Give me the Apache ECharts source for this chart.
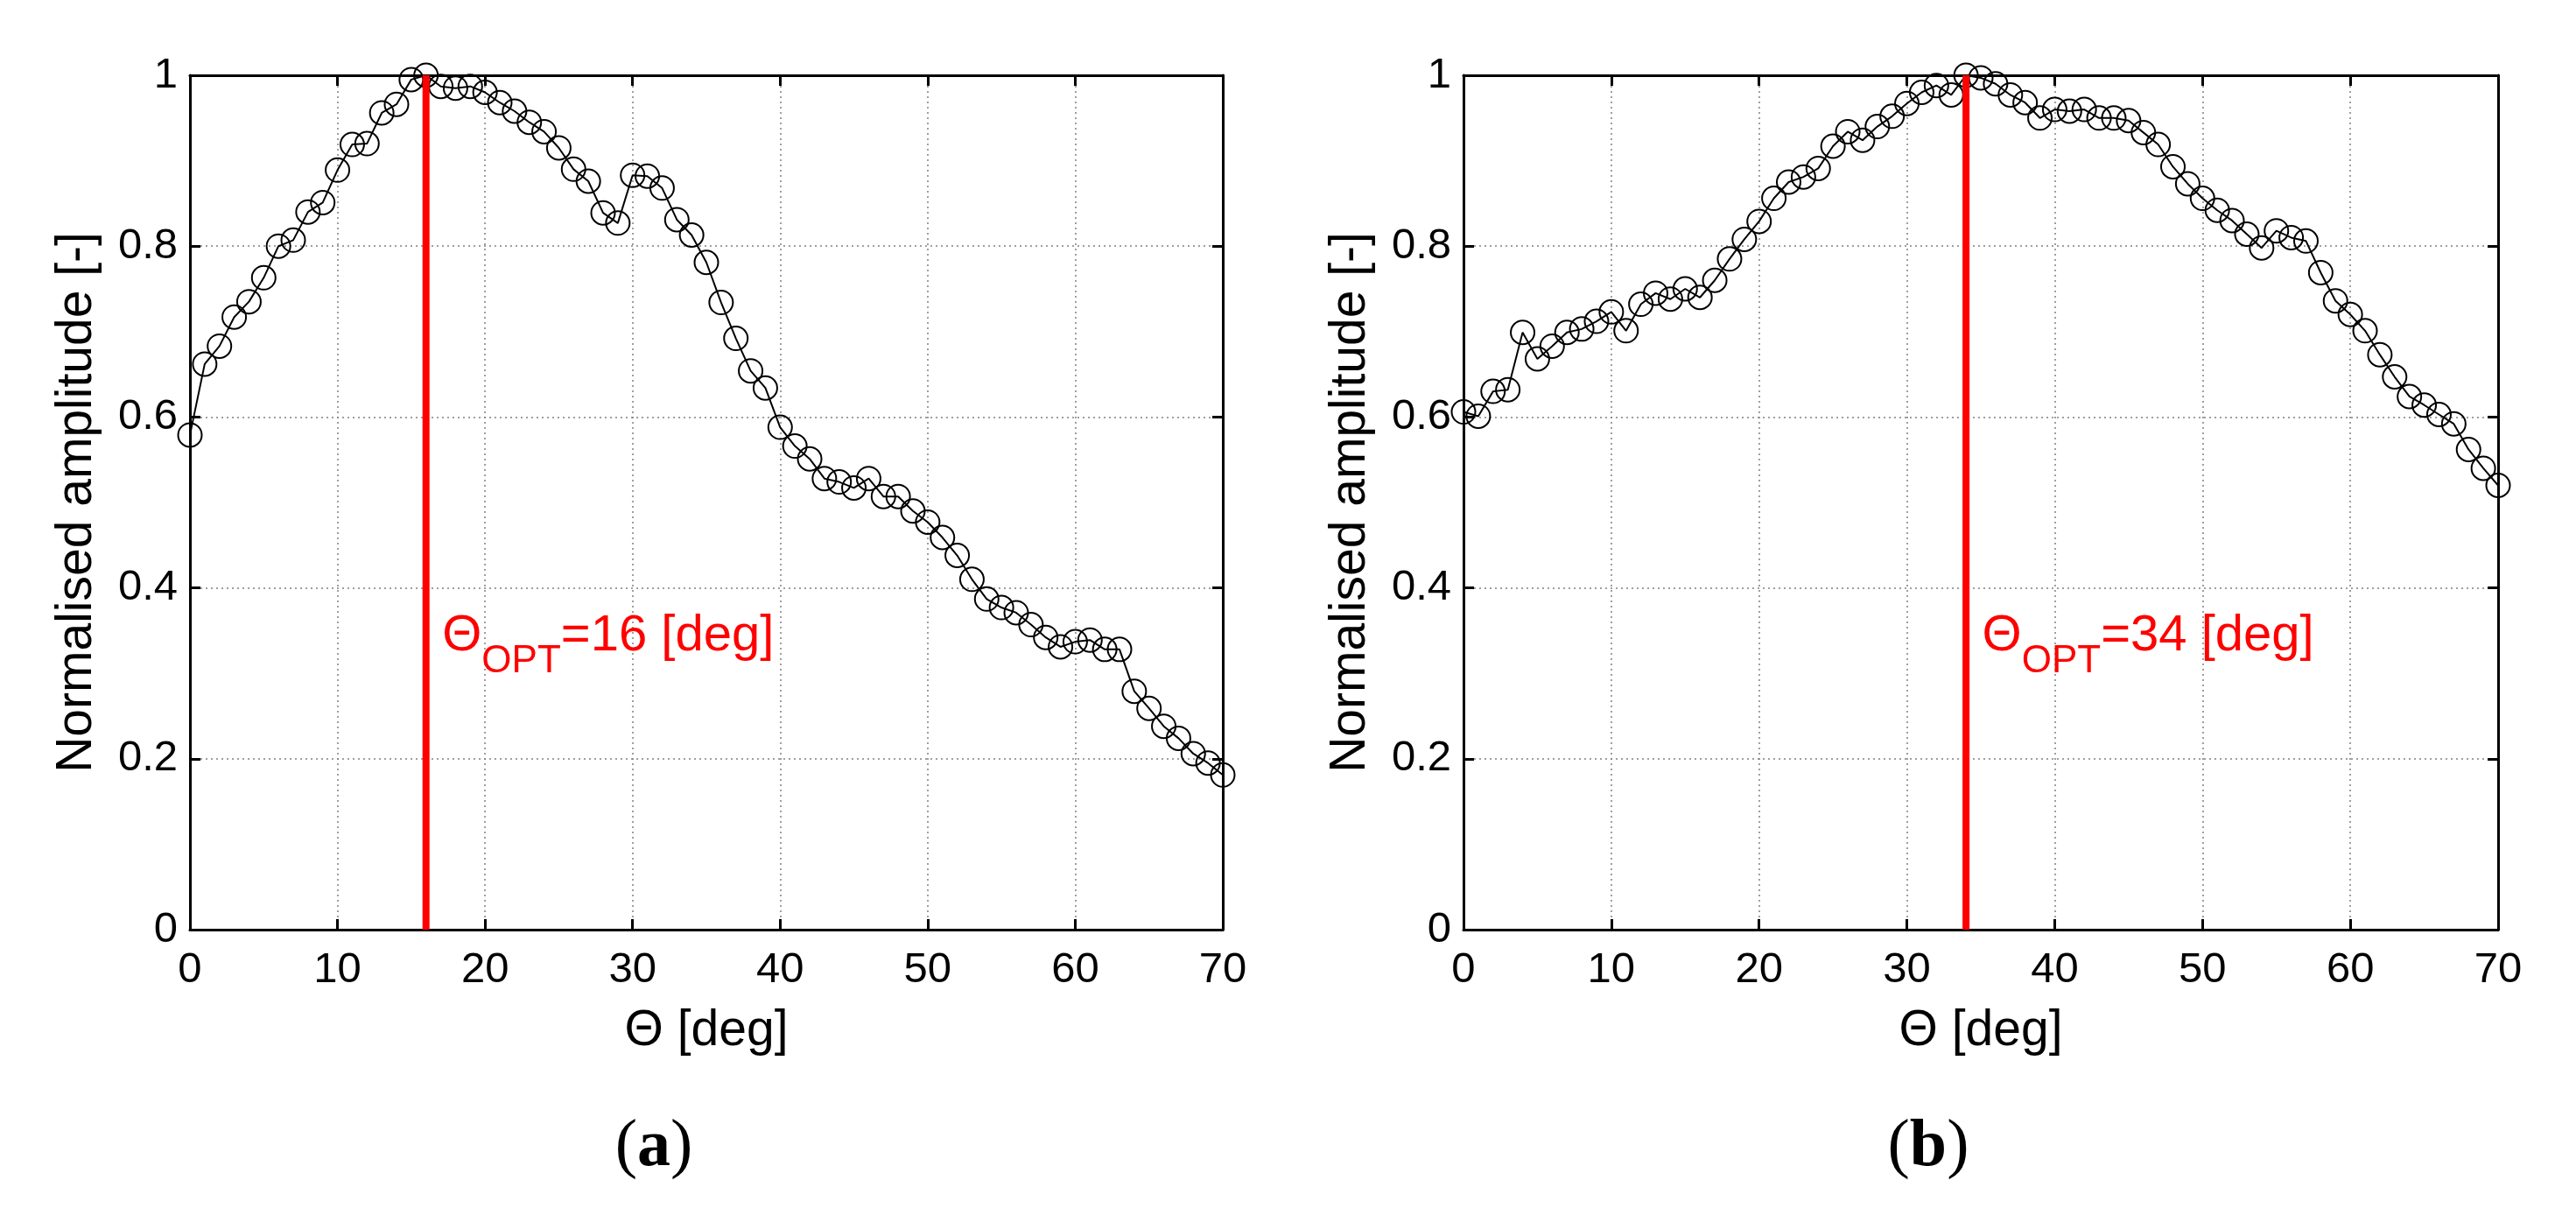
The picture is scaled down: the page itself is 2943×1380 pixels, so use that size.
<!DOCTYPE html>
<html><head><meta charset="utf-8">
<script src="https://cdn.jsdelivr.net/npm/echarts@6/dist/echarts.min.js"></script>
<style>html,body{margin:0;padding:0;background:#fff}#c{width:2943px;height:1380px}</style>
</head><body><div id="c"></div>
<script>
// ---- data ----
const thetaDeg = [0,1,2,3,4,5,6,7,8,9,10,11,12,13,14,15,16,17,18,19,20,21,22,23,24,25,26,27,28,29,30,31,32,33,34,35,36,37,38,39,40,41,42,43,44,45,46,47,48,49,50,51,52,53,54,55,56,57,58,59,60,61,62,63,64,65,66,67,68,69,70];
const ampA = [0.579,0.662,0.683,0.717,0.735,0.763,0.800,0.807,0.840,0.851,
  0.889,0.919,0.920,0.956,0.966,0.995,1.000,0.987,0.985,0.987,
  0.980,0.968,0.958,0.945,0.934,0.915,0.890,0.876,0.839,0.827,
  0.883,0.882,0.868,0.831,0.813,0.781,0.734,0.692,0.654,0.634,
  0.588,0.566,0.551,0.528,0.524,0.517,0.528,0.507,0.507,0.490,
  0.477,0.459,0.438,0.410,0.387,0.377,0.371,0.357,0.342,0.331,
  0.337,0.339,0.328,0.328,0.279,0.259,0.238,0.224,0.206,0.195,0.181];
const ampB = [0.606,0.601,0.630,0.632,0.699,0.668,0.683,0.699,0.703,0.712,
  0.723,0.701,0.732,0.745,0.738,0.750,0.740,0.760,0.785,0.808,
  0.829,0.856,0.875,0.881,0.891,0.917,0.934,0.924,0.940,0.952,
  0.967,0.980,0.988,0.977,1.000,0.997,0.990,0.977,0.968,0.950,
  0.960,0.958,0.960,0.950,0.950,0.947,0.933,0.919,0.893,0.873,
  0.856,0.842,0.830,0.814,0.798,0.818,0.810,0.806,0.769,0.736,
  0.720,0.701,0.673,0.647,0.624,0.614,0.603,0.592,0.562,0.540,0.520];
const optAngles = [16, 34];
const captions = ['a', 'b'];
const xRange = [0, 70], xStep = 10;
const yRange = [0, 1], yStep = 0.2;
const labelLevel = 0.342;

// ---- styles ----
const sans = 'Liberation Sans, Arial, Helvetica, sans-serif';
const serif = 'Liberation Serif, Times New Roman, serif';
const grids = [
  {left: 217, top: 86, width: 1180, height: 976},
  {left: 1672, top: 86, width: 1182, height: 976}
];
const captionX = [742, 2198];

const xAxes = [], yAxes = [], series = [], titles = [];
const splitStyle = {show: true, lineStyle: {color: '#808080', type: [2, 4], width: 1.5}};
grids.forEach((g, i) => {
  xAxes.push({
    type: 'value', gridIndex: i, min: xRange[0], max: xRange[1], interval: xStep, position: 'bottom',
    axisLine: {show: true, onZero: false, lineStyle: {color: '#000', width: 3}},
    axisTick: {show: true, inside: true, length: 12, lineStyle: {color: '#000', width: 3}},
    axisLabel: {color: '#000', fontSize: 49, fontFamily: sans, margin: 22},
    splitLine: splitStyle,
    name: 'Θ [deg]', nameLocation: 'middle', nameGap: 88,
    nameTextStyle: {color: '#000', fontSize: 57, fontFamily: sans}
  });
  xAxes.push({
    type: 'value', gridIndex: i, min: xRange[0], max: xRange[1], interval: xStep, position: 'top',
    axisLine: {show: true, onZero: false, lineStyle: {color: '#000', width: 3}},
    axisTick: {show: true, inside: true, length: 12, lineStyle: {color: '#000', width: 3}},
    axisLabel: {show: false}, splitLine: {show: false}
  });
  yAxes.push({
    type: 'value', gridIndex: i, min: yRange[0], max: yRange[1], interval: yStep, position: 'left',
    axisLine: {show: true, onZero: false, lineStyle: {color: '#000', width: 3}},
    axisTick: {show: true, inside: true, length: 12, lineStyle: {color: '#000', width: 3}},
    axisLabel: {color: '#000', fontSize: 49, fontFamily: sans, margin: 14},
    splitLine: splitStyle,
    name: 'Normalised amplitude [-]', nameLocation: 'middle', nameGap: 100, nameRotate: 90,
    nameTextStyle: {color: '#000', fontSize: 57, fontFamily: sans}
  });
  yAxes.push({
    type: 'value', gridIndex: i, min: yRange[0], max: yRange[1], interval: yStep, position: 'right',
    axisLine: {show: true, onZero: false, lineStyle: {color: '#000', width: 3}},
    axisTick: {show: true, inside: true, length: 12, lineStyle: {color: '#000', width: 3}},
    axisLabel: {show: false}, splitLine: {show: false}
  });
  const amp = i === 0 ? ampA : ampB;
  const opt = optAngles[i];
  series.push({
    type: 'line', xAxisIndex: 2 * i, yAxisIndex: 2 * i, z: 3, clip: false,
    data: thetaDeg.map((t, k) => [t, amp[k]]),
    symbol: 'circle', symbolSize: 27, showSymbol: true,
    lineStyle: {color: '#000', width: 2},
    itemStyle: {color: 'rgba(0,0,0,0)', borderColor: '#000', borderWidth: 2},
    silent: true, animation: false
  });
  series.push({
    type: 'line', xAxisIndex: 2 * i, yAxisIndex: 2 * i, z: 4,
    data: [[opt, yRange[0]], [opt, yRange[1]]],
    symbol: 'none', lineStyle: {color: '#ff0000', width: 8, cap: 'butt'},
    silent: true, animation: false,
    markPoint: {
      symbol: 'circle', symbolSize: 1, silent: true, animation: false,
      itemStyle: {color: 'rgba(0,0,0,0)'},
      data: [{coord: [opt, labelLevel]}],
      label: {
        show: true, position: 'right', distance: 18,
        formatter: '{t|Θ}{s|OPT}{t|=' + opt + ' [deg]}',
        rich: {
          t: {fontSize: 58, color: '#ff0000', fontFamily: sans, lineHeight: 60, verticalAlign: 'top'},
          s: {fontSize: 44, color: '#ff0000', fontFamily: sans, lineHeight: 44, verticalAlign: 'top', padding: [36, 0, 0, 0]}
        }
      }
    }
  });
  titles.push({
    text: '({b|' + captions[i] + '})', left: captionX[i], top: 1268, textAlign: 'center',
    textStyle: {fontFamily: serif, fontSize: 76, fontWeight: 'normal', color: '#000',
      rich: {b: {fontFamily: serif, fontSize: 76, fontWeight: 'bold', color: '#000'}}}
  });
});

const chart = echarts.init(document.getElementById('c'), null, {renderer: 'canvas'});
chart.setOption({
  backgroundColor: '#fff',
  animation: false,
  title: titles,
  grid: grids.map(g => Object.assign({show: true, borderColor: '#000', borderWidth: 2, backgroundColor: 'transparent'}, g)),
  xAxis: xAxes,
  yAxis: yAxes,
  series: series
});
</script></body></html>
